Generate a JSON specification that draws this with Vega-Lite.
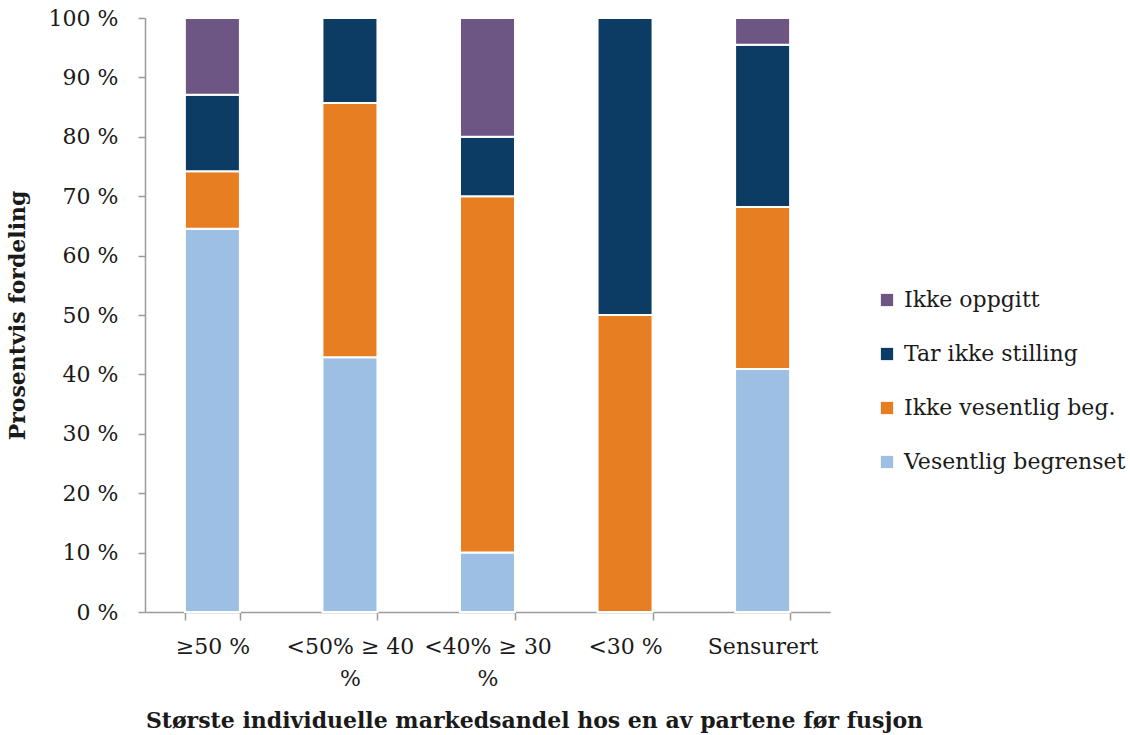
{
  "$schema": "https://vega.github.io/schema/vega-lite/v6.json",
  "width": 685,
  "height": 594,
  "autosize": {"type": "none"},
  "padding": {"left": 145, "top": 18, "right": 300, "bottom": 123},
  "background": "white",
  "config": {
    "view": {"stroke": null},
    "font": "DejaVu Serif"
  },
  "data": {
    "values": [
      {"andel": "≥50 %", "vurdering": "Vesentlig begrenset", "nr": 1, "prosent": 64.5},
      {"andel": "≥50 %", "vurdering": "Ikke vesentlig beg.", "nr": 2, "prosent": 9.7},
      {"andel": "≥50 %", "vurdering": "Tar ikke stilling", "nr": 3, "prosent": 12.9},
      {"andel": "≥50 %", "vurdering": "Ikke oppgitt", "nr": 4, "prosent": 12.9},
      {"andel": "<50% ≥ 40 %", "vurdering": "Vesentlig begrenset", "nr": 1, "prosent": 42.9},
      {"andel": "<50% ≥ 40 %", "vurdering": "Ikke vesentlig beg.", "nr": 2, "prosent": 42.8},
      {"andel": "<50% ≥ 40 %", "vurdering": "Tar ikke stilling", "nr": 3, "prosent": 14.3},
      {"andel": "<50% ≥ 40 %", "vurdering": "Ikke oppgitt", "nr": 4, "prosent": 0},
      {"andel": "<40% ≥ 30 %", "vurdering": "Vesentlig begrenset", "nr": 1, "prosent": 10},
      {"andel": "<40% ≥ 30 %", "vurdering": "Ikke vesentlig beg.", "nr": 2, "prosent": 60},
      {"andel": "<40% ≥ 30 %", "vurdering": "Tar ikke stilling", "nr": 3, "prosent": 10},
      {"andel": "<40% ≥ 30 %", "vurdering": "Ikke oppgitt", "nr": 4, "prosent": 20},
      {"andel": "<30 %", "vurdering": "Vesentlig begrenset", "nr": 1, "prosent": 0},
      {"andel": "<30 %", "vurdering": "Ikke vesentlig beg.", "nr": 2, "prosent": 50},
      {"andel": "<30 %", "vurdering": "Tar ikke stilling", "nr": 3, "prosent": 50},
      {"andel": "<30 %", "vurdering": "Ikke oppgitt", "nr": 4, "prosent": 0},
      {"andel": "Sensurert", "vurdering": "Vesentlig begrenset", "nr": 1, "prosent": 40.9},
      {"andel": "Sensurert", "vurdering": "Ikke vesentlig beg.", "nr": 2, "prosent": 27.3},
      {"andel": "Sensurert", "vurdering": "Tar ikke stilling", "nr": 3, "prosent": 27.3},
      {"andel": "Sensurert", "vurdering": "Ikke oppgitt", "nr": 4, "prosent": 4.5}
    ]
  },
  "mark": {"type": "bar", "stroke": "white", "strokeWidth": 2},
  "encoding": {
    "x": {
      "field": "andel",
      "type": "nominal",
      "sort": null,
      "scale": {"paddingInner": 0.6, "paddingOuter": 0.29},
      "axis": {
        "title": "Største individuelle markedsandel hos en av partene før fusjon",
        "titleFontSize": 22,
        "titleFontWeight": "bold",
        "titleColor": "#1a1a1a",
        "titleX": 389,
        "titleY": 115,
        "titleBaseline": "alphabetic",
        "labelExpr": "datum.value == '<50% ≥ 40 %' ? ['<50% ≥ 40', '%'] : datum.value == '<40% ≥ 30 %' ? ['<40% ≥ 30', '%'] : datum.value",
        "labelAngle": 0,
        "labelFontSize": 22,
        "labelColor": "#1a1a1a",
        "labelPadding": 16,
        "labelLineHeight": 32,
        "labelBaseline": "top",
        "tickBand": "extent",
        "tickSize": 8,
        "tickColor": "#9a9a9a",
        "domainColor": "#9a9a9a",
        "domainWidth": 1.5,
        "tickWidth": 1.5
      }
    },
    "y": {
      "field": "prosent",
      "type": "quantitative",
      "stack": "zero",
      "scale": {"domain": [0, 100], "nice": false},
      "axis": {
        "title": "Prosentvis fordeling",
        "titleFontSize": 22,
        "titleFontWeight": "bold",
        "titleColor": "#1a1a1a",
        "titleX": -116,
        "values": [0, 10, 20, 30, 40, 50, 60, 70, 80, 90, 100],
        "labelExpr": "datum.value + ' %'",
        "labelFontSize": 22,
        "labelColor": "#1a1a1a",
        "labelPadding": 20,
        "tickSize": 7,
        "tickColor": "#9a9a9a",
        "domainColor": "#9a9a9a",
        "domainWidth": 1.5,
        "tickWidth": 1.5,
        "grid": false
      }
    },
    "color": {
      "field": "vurdering",
      "type": "nominal",
      "scale": {
        "domain": ["Ikke oppgitt", "Tar ikke stilling", "Ikke vesentlig beg.", "Vesentlig begrenset"],
        "range": ["#6d5584", "#0c3c63", "#e87e22", "#9dbfe3"]
      },
      "legend": {
        "title": null,
        "orient": "none",
        "legendX": 731,
        "legendY": 271,
        "symbolType": "square",
        "symbolSize": 150,
        "symbolStrokeWidth": 0,
        "labelFontSize": 22,
        "labelColor": "#1a1a1a",
        "labelLimit": 300,
        "rowPadding": 32,
        "labelOffset": 6
      }
    },
    "order": {"field": "nr", "type": "quantitative"}
  }
}
